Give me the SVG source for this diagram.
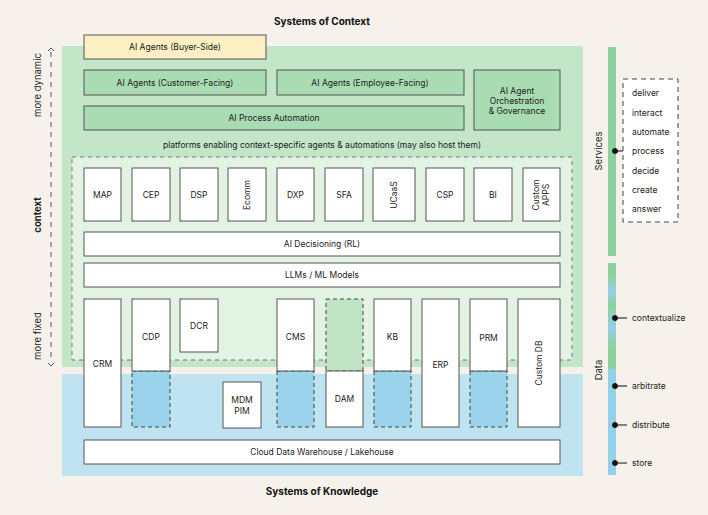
<svg xmlns="http://www.w3.org/2000/svg" width="708" height="515" viewBox="0 0 708 515">
<defs>
<style>
text{font-family:Inter,"Liberation Sans",Arial,sans-serif;font-size:8.5px;fill:#222;}
.t{font-weight:bold;font-size:10px;fill:#111;}
.b{fill:#fff;stroke:#555;stroke-width:1;}
.g{fill:#a9dcb2;stroke:#555;stroke-width:1;}
.y{fill:#fdefc4;stroke:#555;stroke-width:1;}
.bd{fill:#9bd3ea;stroke:#444;stroke-width:1;stroke-dasharray:4 3;}
.gd{fill:#c0e4c5;stroke:#444;stroke-width:1;stroke-dasharray:4 3;}
.c{text-anchor:middle;dominant-baseline:central;}
.ax{stroke:#555;stroke-width:1;stroke-dasharray:5 5;fill:none;}
</style>
<linearGradient id="dg" x1="0" y1="263" x2="0" y2="475" gradientUnits="userSpaceOnUse">
<stop offset="0" stop-color="#8fd19e"/>
<stop offset="0.06" stop-color="#8fd19e"/>
<stop offset="0.13" stop-color="#93d0ea"/>
<stop offset="0.2" stop-color="#8fd19e"/>
<stop offset="0.3" stop-color="#93d0ea"/>
<stop offset="0.4" stop-color="#8fd19e"/>
<stop offset="0.5" stop-color="#8fd19e"/>
<stop offset="0.5" stop-color="#93d0ea"/>
<stop offset="1" stop-color="#93d0ea"/>
</linearGradient>
</defs>
<rect width="708" height="515" fill="#f6f1ea"/>
<text class="t c" x="322" y="21">Systems of Context</text>
<text class="t c" x="322" y="491">Systems of Knowledge</text>
<g id="panels">
<rect x="62" y="46" width="521" height="321" fill="#c3e5c8"/>
<rect x="62" y="374" width="521" height="102" fill="#c0e3f2"/>
<rect x="72" y="157" width="500" height="203" fill="#e2f2e3" stroke="#777" stroke-dasharray="4 4"/>
<text class="c" x="322" y="145">platforms enabling context-specific agents &amp; automations (may also host them)</text>
</g>
<g id="axis">
<line class="ax" x1="51" y1="52" x2="51" y2="362"/>
<path d="M48 51 L51 48 L54 51" fill="none" stroke="#555"/>
<path d="M48 363 L51 366 L54 363" fill="none" stroke="#555"/>
<text class="c" transform="translate(37 85) rotate(-90)" style="font-size:9.5px">more dynamic</text>
<text class="c" transform="translate(37 215) rotate(-90)" style="font-size:9.5px;font-weight:bold">context</text>
<text class="c" transform="translate(37 336) rotate(-90)" style="font-size:9.5px">more fixed</text>
</g>
<g id="buyer"><rect class="y" x="84" y="35" width="182" height="24"/><text class="c" x="175" y="47">AI Agents (Buyer-Side)</text></g>
<g id="customer"><rect class="g" x="84" y="70" width="182" height="25"/><text class="c" x="175" y="83">AI Agents (Customer-Facing)</text></g>
<g id="employee"><rect class="g" x="277" y="70" width="187" height="25"/><text class="c" x="370" y="83">AI Agents (Employee-Facing)</text></g>
<g id="process"><rect class="g" x="84" y="106" width="380" height="24"/><text class="c" x="274" y="118">AI Process Automation</text></g>
<g id="orch"><rect class="g" x="474" y="70" width="86" height="60"/><text class="c" x="517" y="91">AI Agent</text><text class="c" x="517" y="101">Orchestration</text><text class="c" x="517" y="111">&amp; Governance</text></g>
<g id="map"><rect class="b" x="84" y="168" width="37" height="53"/><text class="c" x="102.5" y="195">MAP</text></g>
<g id="cep"><rect class="b" x="132" y="168" width="38" height="53"/><text class="c" x="151" y="195">CEP</text></g>
<g id="dsp"><rect class="b" x="180" y="168" width="38" height="53"/><text class="c" x="199" y="195">DSP</text></g>
<g id="ecomm"><rect class="b" x="228" y="168" width="38" height="53"/><text class="c" transform="translate(247 195) rotate(-90)">Ecomm</text></g>
<g id="dxp"><rect class="b" x="277" y="168" width="37" height="53"/><text class="c" x="295.5" y="195">DXP</text></g>
<g id="sfa"><rect class="b" x="325" y="168" width="38" height="53"/><text class="c" x="344" y="195">SFA</text></g>
<g id="ucaas"><rect class="b" x="373" y="168" width="42" height="53"/><text class="c" transform="translate(394 195) rotate(-90)">UCaaS</text></g>
<g id="csp"><rect class="b" x="426" y="168" width="38" height="53"/><text class="c" x="445" y="195">CSP</text></g>
<g id="bi"><rect class="b" x="474" y="168" width="38" height="53"/><text class="c" x="493" y="195">BI</text></g>
<g id="custapps"><rect class="b" x="523" y="168" width="37" height="53"/><text class="c" transform="translate(536 195) rotate(-90)">Custom</text><text class="c" transform="translate(546 195) rotate(-90)">APPS</text></g>
<g id="decision"><rect class="b" x="84" y="232" width="476" height="24"/><text class="c" x="322" y="244">AI Decisioning (RL)</text></g>
<g id="llm"><rect class="b" x="84" y="263" width="476" height="24"/><text class="c" x="322" y="275">LLMs / ML Models</text></g>
<g id="crm"><rect class="b" x="84" y="299" width="37" height="128"/><text class="c" x="102.5" y="364">CRM</text></g>
<g id="cdp"><rect class="bd" x="132" y="371" width="38" height="56"/><rect class="b" x="132" y="299" width="38" height="72"/><text class="c" x="151" y="337">CDP</text></g>
<g id="dcr"><rect class="b" x="180" y="299" width="38" height="53"/><text class="c" x="199" y="326">DCR</text></g>
<g id="mdm"><rect class="b" x="223" y="382" width="38" height="46"/><text class="c" x="242" y="400">MDM</text><text class="c" x="242" y="411">PIM</text></g>
<g id="cms"><rect class="bd" x="277" y="371" width="37" height="56"/><rect class="b" x="277" y="299" width="37" height="72"/><text class="c" x="295.5" y="337">CMS</text></g>
<g id="dam"><rect class="gd" x="326" y="299" width="37" height="72"/><rect class="b" x="326" y="371" width="37" height="56"/><text class="c" x="344.5" y="399">DAM</text></g>
<g id="kb"><rect class="bd" x="374" y="371" width="37" height="56"/><rect class="b" x="374" y="299" width="37" height="72"/><text class="c" x="392.5" y="337">KB</text></g>
<g id="erp"><rect class="b" x="422" y="299" width="37" height="128"/><text class="c" x="440.5" y="365">ERP</text></g>
<g id="prm"><rect class="bd" x="470" y="371" width="37" height="56"/><rect class="b" x="470" y="299" width="37" height="72"/><text class="c" x="488.5" y="338">PRM</text></g>
<g id="customdb"><rect class="b" x="518" y="299" width="42" height="128"/><text class="c" transform="translate(539 363) rotate(-90)">Custom DB</text></g>
<g id="cdw"><rect class="b" x="84" y="440" width="476" height="24"/><text class="c" x="322" y="452">Cloud Data Warehouse / Lakehouse</text></g>
<g id="services">
<rect x="608" y="47" width="8" height="209" fill="#8fd19e"/>
<text class="c" transform="translate(598 151) rotate(-90)" style="font-size:9.5px">Services</text>
<rect x="623" y="79" width="55" height="143" fill="#fff" stroke="#444" stroke-dasharray="5 4"/>
<text x="632" y="96">deliver</text>
<text x="632" y="116">interact</text>
<text x="632" y="135">automate</text>
<text x="632" y="154">process</text>
<text x="632" y="174">decide</text>
<text x="632" y="193">create</text>
<text x="632" y="212">answer</text>
</g>
<g id="data">
<rect x="608" y="263" width="8" height="212" fill="url(#dg)"/>
<text class="c" transform="translate(598 370) rotate(-90)" style="font-size:9.5px">Data</text>
<text x="632" y="321">contextualize</text>
<text x="632" y="389">arbitrate</text>
<text x="632" y="428">distribute</text>
<text x="632" y="466">store</text>
</g>
<g id="connectors" stroke="#111" stroke-width="1" fill="#111">
<line x1="615" y1="151" x2="623" y2="151"/><circle cx="615" cy="151" r="2.5"/>
<line x1="615" y1="318" x2="627" y2="318"/><circle cx="615" cy="318" r="2.5"/>
<line x1="615" y1="386" x2="627" y2="386"/><circle cx="615" cy="386" r="2.5"/>
<line x1="615" y1="425" x2="627" y2="425"/><circle cx="615" cy="425" r="2.5"/>
<line x1="615" y1="463" x2="627" y2="463"/><circle cx="615" cy="463" r="2.5"/>
</g>
</svg>
